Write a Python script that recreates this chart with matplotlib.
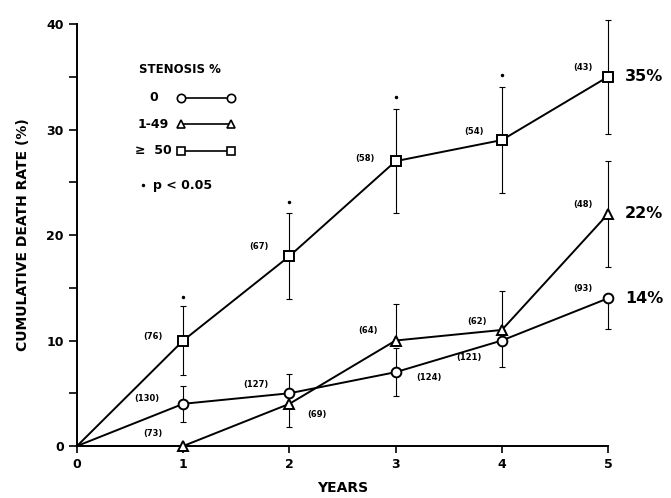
import matplotlib
matplotlib.use('Agg')
import matplotlib.pyplot as plt
import numpy as np

years = [0, 1, 2, 3, 4, 5]

# cumulative death rate (%) by stenosis group
rate_0 = [0, 4, 5, 7, 10, 14]
rate_1_49 = [0, 0, 4, 10, 11, 22]
rate_50 = [0, 10, 18, 27, 29, 35]

# error bars (lower, upper); 0 where the bar is not drawn
err_0 = [[0, 1.7, 0, 2.3, 2.5, 2.9], [0, 1.7, 1.8, 2.3, 0, 0]]
err_1_49 = [[0, 0, 2.2, 0, 0, 5.0], [0, 0, 0, 3.5, 3.7, 5.0]]
err_50 = [[0, 3.3, 4.1, 4.9, 5.0, 5.4], [0, 3.3, 4.1, 4.9, 5.0, 5.4]]

# patient numbers at each year
n_0 = ['', '(130)', '(127)', '(124)', '(121)', '(93)']
n_1_49 = ['', '(73)', '(69)', '(64)', '(62)', '(48)']
n_50 = ['', '(76)', '(67)', '(58)', '(54)', '(43)']

# label offsets in points
off_0 = [None, (-26, 4), (-24, 6), (24, -4), (-24, -12), (-18, 7)]
off_1_49 = [None, (-22, 9), (20, -8), (-20, 7), (-18, 6), (-18, 7)]
off_50 = [None, (-22, 3), (-22, 7), (-22, 2), (-20, 6), (-18, 7)]

# p < 0.05 marks (years, heights)
sig_years = [1, 2, 3, 4]
sig_vals = [14.1, 23.1, 33.1, 35.2]

final_labels = ['14%', '22%', '35%']

fig = plt.figure(figsize=(6.71, 4.98), dpi=100)
ax = fig.add_axes([0.1148, 0.1044, 0.7914, 0.8474])

groups = [(rate_0, err_0, n_0, off_0, 'o'),
          (rate_1_49, err_1_49, n_1_49, off_1_49, '^'),
          (rate_50, err_50, n_50, off_50, 's')]

for vals, err, ns, offs, mk in groups:
    ax.errorbar(years[1:], vals[1:], yerr=np.array(err)[:, 1:], fmt='none',
                ecolor='black', elinewidth=0.8, capsize=2, capthick=0.8,
                clip_on=False, zorder=2)
    ax.plot(years, vals, color='black', lw=1.4, marker=mk, markersize=7,
            markerfacecolor='white', markeredgewidth=1.4, markevery=range(1, 6),
            clip_on=False, zorder=3)
    for x, y, t, o in zip(years, vals, ns, offs):
        if t:
            ax.annotate(t, (x, y), xytext=o, textcoords='offset points',
                        ha='center', va='center', fontsize=6, fontweight='bold')

ax.plot(sig_years, sig_vals, 'k.', markersize=3, clip_on=False)

for v, t in zip([rate_0[-1], rate_1_49[-1], rate_50[-1]], final_labels):
    ax.annotate(t, (5, v), xytext=(12, 0), textcoords='offset points',
                ha='left', va='center', fontsize=11.5, fontweight='bold')

ax.set_xlim(0, 5)
ax.set_ylim(0, 40)
ax.set_xticks(years)
ax.set_yticks([0, 10, 20, 30, 40])
ax.set_yticks([5, 15, 25, 35], minor=True)
ax.tick_params(axis='both', which='both', direction='out', width=1.2, labelsize=9)
ax.tick_params(axis='y', which='major', length=6)
ax.tick_params(axis='y', which='minor', length=6)
ax.tick_params(axis='x', length=5)
for lab in ax.get_xticklabels() + ax.get_yticklabels():
    lab.set_fontweight('bold')
ax.spines['top'].set_visible(False)
ax.spines['right'].set_visible(False)
ax.spines['left'].set_linewidth(1.4)
ax.spines['bottom'].set_linewidth(1.4)

ax.set_xlabel('YEARS', fontsize=10, fontweight='bold', labelpad=7)
ax.set_ylabel('CUMULATIVE DEATH RATE (%)', fontsize=10, fontweight='bold', labelpad=12)

# hand drawn style legend
ax.text(0.58, 35.7, 'STENOSIS %', fontsize=8.5, fontweight='bold', ha='left', va='center')
leg_names = ['0', '1-49', '≥  50']
leg_marks = ['o', '^', 's']
leg_y = [33.0, 30.5, 28.0]
for name, mk, y in zip(leg_names, leg_marks, leg_y):
    ax.text(0.72, y, name, fontsize=9, fontweight='bold', ha='center', va='center')
    ax.plot([0.98, 1.45], [y, y], color='black', lw=1.2, marker=mk, markersize=6,
            markerfacecolor='white', markeredgewidth=1.2)
ax.plot([0.62], [24.7], 'k.', markersize=3)
ax.text(0.72, 24.7, 'p < 0.05', fontsize=9, fontweight='bold', ha='left', va='center')

fig.savefig('out.png', dpi=100)
